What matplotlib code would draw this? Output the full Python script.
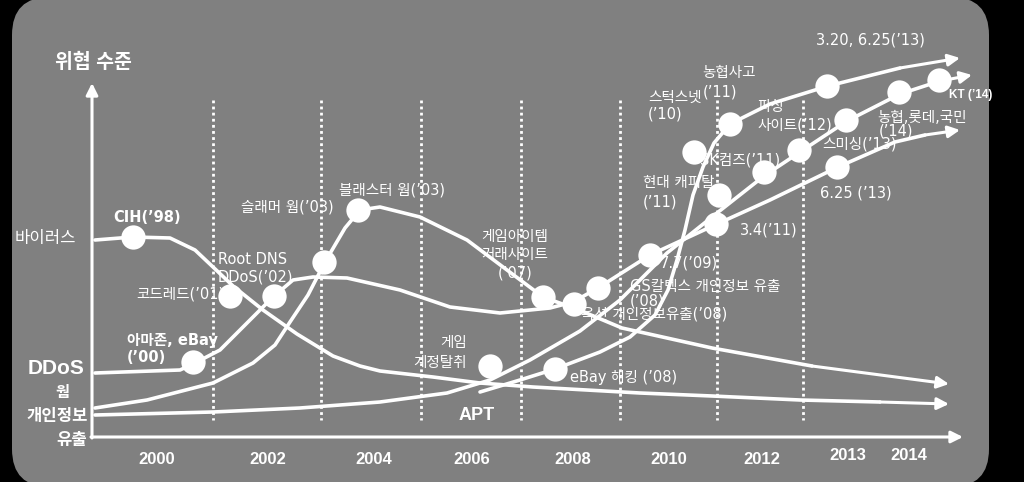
import matplotlib.pyplot as plt
from matplotlib.patches import FancyBboxPatch

plt.rcParams['font.family'] = ['Liberation Sans', 'Noto Sans CJK KR', 'DejaVu Sans']
label_font = ['DejaVu Sans', 'Noto Sans CJK KR']

# curves, in pixel units (x to the right, y downwards)
virus_x = [95, 133, 170, 195, 213, 233, 263, 297, 333, 360, 380, 433, 480, 533, 640, 712, 800, 880, 949]
virus_y = [240, 237, 238, 250, 267, 286, 310, 334, 356, 366, 371, 377, 383, 387, 393, 396, 400, 402, 404]

worm_x = [95, 147, 213, 253, 275, 290, 308, 325, 345, 360, 380, 420, 467, 507, 543, 579, 622, 712, 812, 949]
worm_y = [408, 400, 383, 363, 345, 322, 295, 262, 228, 210, 207, 217, 240, 270, 297, 310, 328, 348, 366, 384]

ddos_x = [95, 180, 193, 220, 247, 273, 293, 313, 347, 400, 450, 500, 550, 573, 598, 650, 717, 770, 838, 895, 925, 960]
ddos_y = [373, 370, 364, 350, 323, 297, 280, 277, 278, 290, 307, 313, 308, 302, 288, 255, 224, 200, 167, 142, 135, 130]

leak_x = [95, 213, 300, 380, 447, 490, 530, 580, 620, 667, 717, 764, 800, 847, 900, 940, 972]
leak_y = [415, 412, 408, 402, 393, 380, 360, 331, 300, 253, 213, 176, 152, 121, 94, 81, 75]

apt_x = [480, 520, 555, 600, 630, 655, 668, 677, 685, 693, 703, 714, 730, 770, 828, 900, 960]
apt_y = [392, 380, 369, 352, 337, 315, 290, 260, 230, 195, 167, 143, 124, 104, 86, 68, 58]

# incident markers
dot_x = [133, 193, 230, 274, 324, 358, 490, 543, 574, 598, 555, 650, 719, 716, 694, 730, 764, 799, 846, 837, 827, 899, 939]
dot_y = [237, 362, 296, 296, 262, 210, 366, 297, 304, 288, 369, 255, 195, 224, 152, 124, 172, 150, 120, 167, 86, 92, 80]

# incident labels: text, x, y, alignment, weight
labels = [
    ("CIH(’98)", 147, 217, 'center', 'bold'),
    ("슬래머 웜(’03)", 287, 207, 'center', 'normal'),
    ("블래스터 웜(’03)", 392, 190, 'center', 'normal'),
    ("Root DNS", 218, 259, 'left', 'normal'),
    ("DDoS(’02)", 218, 277, 'left', 'normal'),
    ("코드레드(’01)", 224, 294, 'right', 'normal'),
    ("아마존, eBay", 127, 340, 'left', 'bold'),
    ("(’00)", 127, 358, 'left', 'bold'),
    ("게임아이템", 515, 237, 'center', 'normal'),
    ("거래사이트", 515, 255, 'center', 'normal'),
    ("(’07)", 515, 273, 'center', 'normal'),
    ("게임", 467, 343, 'right', 'normal'),
    ("계정탈취", 467, 362, 'right', 'normal'),
    ("eBay 해킹 (’08)", 570, 377, 'left', 'normal'),
    ("옥션 개인정보유출(’08)", 581, 314, 'left', 'normal'),
    ("GS칼텍스 개인정보 유출", 630, 286, 'left', 'normal'),
    ("(’08)", 630, 301, 'left', 'normal'),
    ("7.7(’09)", 660, 263, 'left', 'normal'),
    ("3.4(’11)", 740, 230, 'left', 'normal'),
    ("현대 캐피탈", 643, 183, 'left', 'normal'),
    ("(’11)", 643, 202, 'left', 'normal'),
    ("스턱스넷", 648, 97, 'left', 'normal'),
    ("(’10)", 648, 114, 'left', 'normal'),
    ("농협사고", 702, 72, 'left', 'normal'),
    ("(’11)", 703, 92, 'left', 'normal'),
    ("파싱", 757, 107, 'left', 'normal'),
    ("사이트(’12)", 757, 125, 'left', 'normal'),
    ("SK컴즈(’11)", 700, 160, 'left', 'normal'),
    ("스미싱(’13)", 822, 144, 'left', 'normal'),
    ("6.25 (’13)", 820, 193, 'left', 'normal'),
    ("3.20, 6.25(’13)", 870, 40, 'center', 'normal'),
    ("농협,롯데,국민", 877, 117, 'left', 'normal'),
    ("(’14)", 879, 131, 'left', 'normal'),
]

year_labels = ['2000', '2002', '2004', '2006', '2008', '2010', '2012', '2013', '2014']
year_x = [157, 268, 374, 472, 573, 669, 762, 848, 909]
year_y = [459, 459, 459, 459, 459, 459, 459, 455, 456]

grid_x = [213, 321, 421, 521, 620, 717, 803]

fig = plt.figure(figsize=(10.24, 4.82), dpi=100, facecolor='black')
ax = fig.add_axes([0, 0, 1, 1])
ax.set_xlim(0, 1024)
ax.set_ylim(482, 0)
ax.axis('off')
ax.set_facecolor('black')

panel = FancyBboxPatch((12, -3), 977, 490, boxstyle='round,pad=0,rounding_size=38',
                       facecolor='#808080', edgecolor='none', zorder=0)
ax.add_patch(panel)

# dotted year separators
for gx in grid_x:
    ax.plot([gx, gx], [100, 420], color='white', lw=2, linestyle=(0, (1, 1.2)), zorder=1)

# axes with arrow heads
arrow_style = dict(arrowstyle='-|>,head_length=0.7,head_width=0.35', color='white', lw=2.2,
                   shrinkA=0, shrinkB=0)
ax.annotate('', xy=(92, 83), xytext=(92, 438), arrowprops=arrow_style, zorder=2)
ax.annotate('', xy=(963, 437), xytext=(91, 437), arrowprops=arrow_style, zorder=2)

# trend curves
for cx, cy in [(virus_x, virus_y), (worm_x, worm_y), (ddos_x, ddos_y), (leak_x, leak_y), (apt_x, apt_y)]:
    ax.plot(cx[:-1], cy[:-1], color='white', lw=2.6, solid_joinstyle='round',
            solid_capstyle='round', zorder=3)
    ax.annotate('', xy=(cx[-1], cy[-1]), xytext=(cx[-2], cy[-2]), arrowprops=arrow_style, zorder=3)

ax.plot(dot_x, dot_y, 'o', color='white', markersize=17.5, markeredgewidth=0, zorder=4)

for text, x, y, ha, weight in labels:
    ax.text(x, y, text, ha=ha, va='center', color='white', fontsize=10.5, fontweight=weight,
            family=label_font, zorder=5)
ax.text(949, 95, "KT (’14)", ha='left', va='center', color='white', fontsize=8.5,
        fontweight='bold', zorder=5)
ax.text(477, 415, "APT", ha='center', va='center', color='white', fontsize=13,
        fontweight='bold', zorder=5)

# threat-level axis
ax.text(93, 62, "위협 수준", ha='center', va='center', color='white', fontsize=14, fontweight='bold')
ax.text(76, 238, "바이러스", ha='right', va='center', color='white', fontsize=12)
ax.text(56, 369, "DDoS", ha='center', va='center', color='white', fontsize=15, fontweight='bold')
ax.text(62, 393, "웜", ha='center', va='center', color='white', fontsize=11, fontweight='bold')
ax.text(57, 416, "개인정보", ha='center', va='center', color='white', fontsize=12, fontweight='bold')
ax.text(72, 440, "유출", ha='center', va='center', color='white', fontsize=12, fontweight='bold')

for lab, x, y in zip(year_labels, year_x, year_y):
    ax.text(x, y, lab, ha='center', va='center', color='white', fontsize=12, fontweight='bold')

fig.savefig('out.png', dpi=100, facecolor='black')
